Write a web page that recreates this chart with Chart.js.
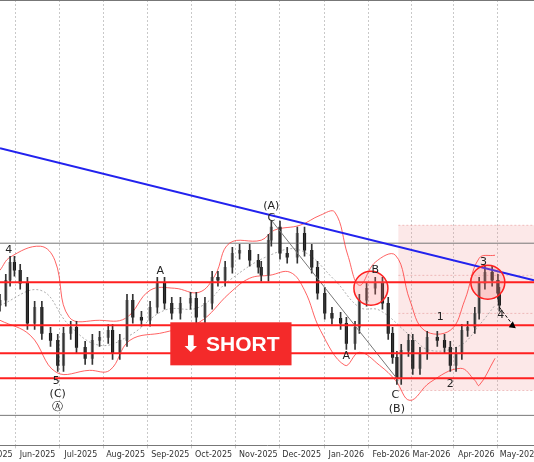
<!DOCTYPE html>
<html>
<head>
<meta charset="utf-8">
<script src="https://cdn.jsdelivr.net/npm/chart.js@4/dist/chart.umd.min.js"></script>
<style>
  html, body { margin: 0; padding: 0; background: #fff; }
  #wrap { width: 534px; height: 462px; }
</style>
</head>
<body>
<div id="wrap"><canvas id="myChart"></canvas></div>
<script>
// x = days since 2025-05-01, y = price
const days = [5, 9, 12, 15, 19, 24, 29, 34, 40, 45, 49, 54, 58, 64, 69, 74, 80, 83, 88, 93, 97, 103, 109, 114, 119, 124, 130, 137, 141, 147, 152, 156, 161, 166, 171, 178, 184, 186, 191, 193, 199, 204, 211, 216, 221, 225, 230, 235, 241, 245, 251, 254, 259, 265, 270, 274, 277, 280, 283, 288, 291, 296, 301, 308, 313, 317, 321, 325, 329, 334, 337, 341, 346, 350, 351];
const closes = [14.5, 16.5, 18.3, 17.5, 16.2, 12.2, 13.8, 11.2, 10.5, 8.0, 11.2, 11.8, 9.8, 8.7, 10.5, 10.8, 11.5, 9.2, 10.5, 14.5, 12.8, 12.5, 13.8, 16.2, 14.2, 13.2, 14.2, 14.7, 12.8, 14.2, 16.8, 16.5, 17.8, 19.2, 19.5, 18.5, 17.8, 17.0, 20.5, 21.8, 19.2, 18.8, 21.2, 19.5, 17.8, 15.2, 13.2, 12.7, 12.2, 10.2, 11.8, 14.5, 15.7, 16.2, 14.2, 11.2, 8.8, 6.7, 9.5, 10.5, 7.7, 9.2, 10.8, 10.5, 9.8, 8.0, 9.2, 11.5, 11.8, 13.2, 16.2, 17.3, 16.5, 15.2, 14.0];

const upperBand = [[5, 17.5], [12, 18.8], [33, 19.9], [43, 18.5], [53, 12.8], [74, 12.5], [92, 12.7], [109, 15.5], [126, 15.7], [143, 15.3], [154, 17], [164, 20.2], [186, 20.5], [195, 21.5], [213, 22], [227, 23], [237, 23.3], [246, 19], [254, 16], [265, 18.3], [279, 19], [289, 14.5], [299, 11.5], [317, 11.5], [327, 14.5], [337, 18.7], [348, 19]];
const lowerBand = [[5, 12.5], [26, 11], [44, 7.3], [67, 7.5], [81, 7.5], [95, 10.5], [119, 11.3], [143, 12.3], [164, 15.2], [178, 16.7], [192, 17], [206, 17.3], [216, 15.5], [227, 11.5], [244, 8], [254, 9.3], [268, 8], [279, 6.5], [289, 4.5], [303, 6.3], [324, 7.7], [334, 6.5], [337, 6], [348, 8.7]];
const midBand = [[5, 14], [33, 15.5], [53, 12], [74, 10], [95, 11], [119, 13.5], [143, 13.8], [164, 16.5], [192, 19], [213, 19.5], [237, 16.5], [254, 13.8], [268, 13.5], [289, 11], [303, 9.5], [324, 10], [337, 12], [348, 14]];

const redLevels = [16.3, 12.0, 9.2, 6.7];
const grayLevels = [20.2, 3.0];
const trendLine = [[5, 29.7], [375, 16.5]];
const waveLine = [[193, 22.5], [281, 6.5]];
const projection = [[351, 13.8], [361, 11.9]];

const monthDays = [0, 31, 61, 92, 123, 153, 184, 214, 245, 276, 304, 335, 365];
const monthLabels = ["May-2025", "Jun-2025", "Jul-2025", "Aug-2025", "Sep-2025", "Oct-2025", "Nov-2025", "Dec-2025", "Jan-2026", "Feb-2026", "Mar-2026", "Apr-2026", "May-2026"];

const waveLabels = [
  ["4", 11, 19.5], ["A", 116, 17.4], ["5", 44, 6.4], ["(C)", 45, 5.1], ["Ⓐ", 45, 3.8],
  ["(A)", 193, 23.9], ["C", 193, 22.7], ["B", 265, 17.5], ["A", 245, 8.9],
  ["C", 279, 5.0], ["(B)", 280, 3.6], ["1", 310, 12.8], ["2", 317, 6.1],
  ["3", 340, 18.3], ["4", 352, 13.0]
];
const circles = [[262, 15.7], [343, 16.3]];
const zone = { x0: 281, x1: 380, y0: 22, y1: 5.5 };
const shortBox = { x0: 123, x1: 207, y0: 12.3, y1: 8.0 };

let wicks = [], bodies = [], bodyColors = [];
for (let i = 0; i < days.length; i++) {
  let o = i > 0 ? closes[i - 1] : closes[i] - 0.5;
  let c = closes[i];
  wicks.push({ x: days[i], y: [Math.min(o, c) - 0.6, Math.max(o, c) + 0.6] });
  bodies.push({ x: days[i], y: [o, c] });
  bodyColors.push(c >= o ? "#8a8a8a" : "#111");
}

const toPts = (arr) => arr.map((p) => ({ x: p[0], y: p[1] }));
const lineSet = (data, color, width, dash) => ({
  type: "line", data: toPts(data), borderColor: color, borderWidth: width,
  borderDash: dash || [], pointRadius: 0, fill: false, tension: 0.4, order: 2,
});

const drawings = {
  id: "drawings",
  beforeDatasetsDraw(chart) {
    const { ctx, scales: { x, y }, chartArea } = chart;
    ctx.save();
    ctx.fillStyle = "rgba(240,150,150,0.22)";
    const zx0 = x.getPixelForValue(zone.x0), zx1 = x.getPixelForValue(zone.x1);
    const zy0 = y.getPixelForValue(zone.y0), zy1 = y.getPixelForValue(zone.y1);
    ctx.fillRect(zx0, zy0, zx1 - zx0, zy1 - zy0);
    ctx.strokeStyle = "rgba(220,120,120,0.6)";
    ctx.setLineDash([2, 2]);
    ctx.lineWidth = 0.7;
    [zy0, y.getPixelForValue(17.0), y.getPixelForValue(13.2), zy1].forEach((py) => {
      ctx.beginPath(); ctx.moveTo(zx0, py); ctx.lineTo(zx1, py); ctx.stroke();
    });
    ctx.setLineDash([]);
    grayLevels.forEach((v) => {
      const py = y.getPixelForValue(v);
      ctx.strokeStyle = "#777"; ctx.lineWidth = 1;
      ctx.beginPath(); ctx.moveTo(chartArea.left, py); ctx.lineTo(chartArea.right, py); ctx.stroke();
    });
    ctx.restore();
  },
  afterDatasetsDraw(chart) {
    const { ctx, scales: { x, y }, chartArea } = chart;
    ctx.save();
    redLevels.forEach((v) => {
      const py = y.getPixelForValue(v);
      ctx.strokeStyle = "#ff2020"; ctx.lineWidth = 2;
      ctx.beginPath(); ctx.moveTo(chartArea.left, py); ctx.lineTo(chartArea.right, py); ctx.stroke();
    });
    circles.forEach((c) => {
      ctx.beginPath();
      ctx.arc(x.getPixelForValue(c[0]), y.getPixelForValue(c[1]), 17, 0, Math.PI * 2);
      ctx.fillStyle = "rgba(255,120,120,0.25)"; ctx.fill();
      ctx.strokeStyle = "#ff2020"; ctx.lineWidth = 1.5; ctx.stroke();
    });
    const ax = x.getPixelForValue(projection[1][0]), ay = y.getPixelForValue(projection[1][1]);
    ctx.fillStyle = "#000";
    ctx.beginPath(); ctx.moveTo(ax + 2, ay + 2); ctx.lineTo(ax - 5, ay + 1); ctx.lineTo(ax - 1, ay - 5); ctx.fill();
    const bx0 = x.getPixelForValue(shortBox.x0), bx1 = x.getPixelForValue(shortBox.x1);
    const by0 = y.getPixelForValue(shortBox.y0), by1 = y.getPixelForValue(shortBox.y1);
    ctx.fillStyle = "#f42a2a";
    ctx.fillRect(bx0, by0, bx1 - bx0, by1 - by0);
    ctx.fillStyle = "#fff";
    ctx.font = "bold 21px 'Liberation Sans', Arial, sans-serif";
    ctx.textAlign = "center"; ctx.textBaseline = "middle";
    ctx.fillText("⬇ SHORT", (bx0 + bx1) / 2, (by0 + by1) / 2 + 1);
    ctx.font = "11px 'DejaVu Sans', sans-serif";
    waveLabels.forEach((l) => {
      ctx.fillStyle = "#222";
      ctx.fillText(l[0], x.getPixelForValue(l[1]), y.getPixelForValue(l[2]));
    });
    ctx.strokeStyle = "#777"; ctx.lineWidth = 1;
    ctx.beginPath(); ctx.moveTo(chartArea.left, chartArea.top + 0.5); ctx.lineTo(chartArea.right, chartArea.top + 0.5); ctx.stroke();
    ctx.restore();
  },
};

new Chart(document.getElementById("myChart"), {
  type: "bar",
  data: {
    datasets: [
      lineSet(upperBand, "rgba(255,60,60,0.8)", 1),
      lineSet(lowerBand, "rgba(255,60,60,0.8)", 1),
      lineSet(midBand, "#999", 0.8, [2, 2]),
      { ...lineSet(trendLine, "#2222ee", 2), tension: 0, order: 0 },
      { ...lineSet(waveLine, "#777", 1), tension: 0, order: 0 },
      { ...lineSet(projection, "#000", 1, [3, 2]), tension: 0, order: 0 },
      { type: "bar", data: wicks, backgroundColor: "#333", barThickness: 1, grouped: false, order: 1 },
      { type: "bar", data: bodies, backgroundColor: bodyColors, barThickness: 2.5, grouped: false, order: 1 },
    ],
  },
  options: {
    responsive: true,
    maintainAspectRatio: false,
    animation: false,
    layout: { padding: 0 },
    plugins: { legend: { display: false }, tooltip: { enabled: false } },
    scales: {
      x: {
        type: "linear", min: 5, max: 375, offset: false,
        afterBuildTicks: (axis) => { axis.ticks = monthDays.map((v) => ({ value: v })); },
        afterFit: (axis) => { axis.paddingLeft = 0; axis.paddingRight = 0; },
        ticks: {
          autoSkip: false, maxRotation: 0, padding: 2,
          font: { size: 8, family: "'DejaVu Sans', sans-serif" }, color: "#333",
          callback: (v) => monthLabels[monthDays.indexOf(v)],
        },
        grid: { color: "#bbb", lineWidth: 0.8, tickLength: 3 },
        border: { display: true, color: "#777", dash: [2, 2] },
      },
      y: { display: false, min: 0, max: 44.5 },
    },
  },
  plugins: [drawings],
});
</script>
</body>
</html>
